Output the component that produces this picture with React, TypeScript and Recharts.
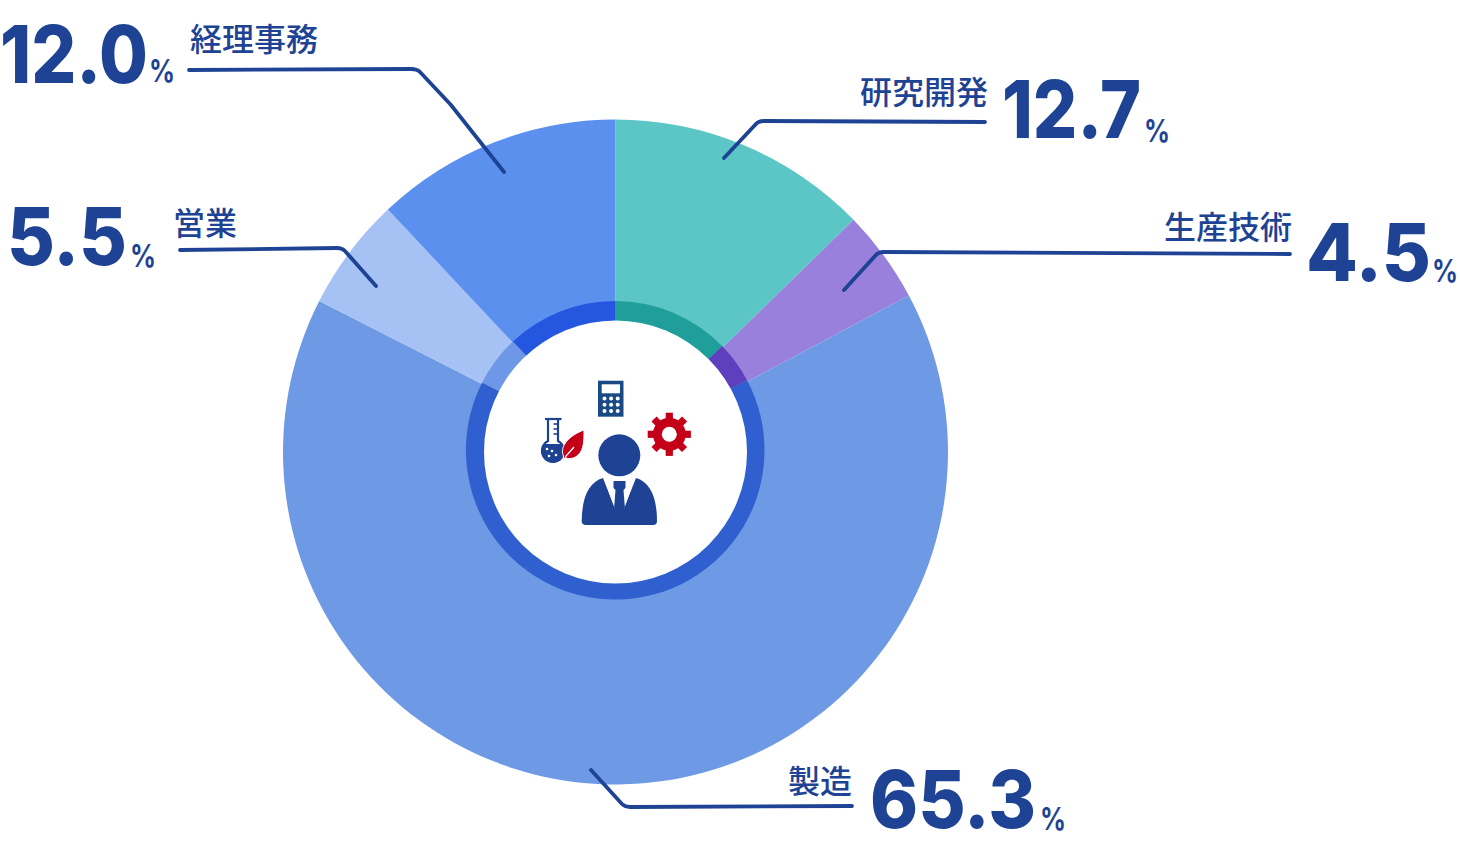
import { PieChart, Pie, Cell } from 'recharts';

const departments = ['研究開発', '生産技術', '製造', '営業', '経理事務'];
const shares = [12.7, 4.5, 65.3, 5.5, 12.0];
const sliceColors = ['#5CC6C6', '#9880DC', '#6E99E5', '#A6C1F4', '#5B90EE'];
const ringColors = ['#1F9E9A', '#5E3FBE', '#305FD0', '#6F97E8', '#2456E0'];

const data = departments.map((name, i) => ({ name, value: shares[i] }));

const NAVY = '#1E4394';
const JP = '"Noto Sans CJK JP", sans-serif';
const NUM = 'Inter, sans-serif';

// callout layout, same order as departments
const callouts = [
  { name: [988, 104, 'end'], num: [1002, 138], numW: 139, pct: [1144, 142], line: 'M985 122 L764 121 Q758 121 755 125 L724 158' },
  { name: [1292, 239, 'end'], num: [1306, 281], numW: 125, pct: [1432, 282], line: 'M1290 254 L884 252 Q878 252 875 256 L844 290' },
  { name: [852, 793, 'end'], num: [870, 828], numW: 166, pct: [1040, 830], line: 'M852 806 L630 807 Q625 807 622 804 L591 770' },
  { name: [173, 235, 'start'], num: [7, 265], numW: 120, pct: [130, 267], line: 'M180 250 L337 248 Q342 248 345 251 L376 286' },
  { name: [190, 51, 'start'], num: [0, 83], numW: 148, pct: [149, 82], line: 'M189 70 L411 69 Q417 69 420 72 L451 105 L504 172' },
];

function Callouts() {
  return (
    <g>
      {callouts.map((c, i) => (
        <g key={departments[i]}>
          <path d={c.line} fill="none" stroke={NAVY} strokeWidth={3.8} strokeLinecap="round" />
          <text x={c.name[0] as number} y={c.name[1] as number} textAnchor={c.name[2] as 'start' | 'end'} fontFamily={JP} fontWeight={500} fontSize={32} fill={NAVY}>
            {departments[i]}
          </text>
          <text x={c.num[0]} y={c.num[1]} textLength={c.numW} lengthAdjust="spacingAndGlyphs" fontFamily={NUM} fontWeight={800} fontSize={80} fill={NAVY}>
            {shares[i].toFixed(1)}
          </text>
          <text x={c.pct[0]} y={c.pct[1]} textLength={26} lengthAdjust="spacingAndGlyphs" fontFamily={NUM} fontWeight={700} fontSize={31} fill={NAVY}>
            %
          </text>
        </g>
      ))}
    </g>
  );
}

function CenterIcons() {
  const dots = [0, 1, 2];
  const teeth = [0, 45, 90, 135, 180, 225, 270, 315];
  const marks = [424, 429, 434];
  return (
    <g>
      <circle cx={615.5} cy={452} r={131.5} fill="#fff" />
      {/* person */}
      <circle cx={619.3} cy={455.3} r={21} fill={NAVY} />
      <path d="M603 478 L615 508 L624 508 L636 478 C650 482 657 497 657 521 Q657 525 653 525 L586 525 Q581.5 525 581.7 521 C582 497 589 482 603 478 Z" fill={NAVY} />
      <path d="M603.5 478 L615 509 L617 481 L622 481 L624 509 L635 478 Z" fill="#fff" />
      <path d="M613.5 481 L625.5 481 L625.5 488 L623.5 490 L625 509 L614 509 L615.5 490 L613.5 488 Z" fill={NAVY} />
      {/* calculator */}
      <rect x={598} y={380.7} width={25.5} height={36} fill="#1A4A85" />
      <rect x={601.7} y={384.3} width={18.3} height={9} fill="#fff" />
      {dots.map((r) =>
        dots.map((c) => <circle key={`${r}-${c}`} cx={604.5 + c * 6.6} cy={398.5 + r * 6.2} r={2} fill="#fff" />),
      )}
      {/* gear */}
      <g transform="translate(669.3 434.3)" fill="#C40018">
        {teeth.map((a) => (
          <rect key={a} x={-3.6} y={-21.6} width={7.2} height={10} transform={`rotate(${a})`} />
        ))}
        <circle r={16.5} />
        <circle r={7.5} fill="#fff" />
      </g>
      {/* flask */}
      <path d="M545 419 L561.5 419" fill="none" stroke={NAVY} strokeWidth={2.2} />
      <path d="M548 419 V441 A 11 11 0 1 0 558 441 V419" fill="none" stroke={NAVY} strokeWidth={2.2} />
      {marks.map((y) => (
        <path key={y} d={`M553.5 ${y} H558`} stroke={NAVY} strokeWidth={1.6} />
      ))}
      <path d="M544 444 A 11.2 11.2 0 1 0 561 444 Z" fill={NAVY} />
      <circle cx={547} cy={449} r={1.3} fill="#fff" />
      <circle cx={552} cy={451} r={1.3} fill="#fff" />
      <circle cx={556} cy={455} r={1.3} fill="#fff" />
      <circle cx={549} cy={456} r={1.3} fill="#fff" />
      {/* leaf */}
      <path d="M584 430 C584 440 584 450 578 455 C574 459 569 459 566 458 L563 462 L563.5 456 C559 446 570 435 584 430 Z" fill="#C40018" stroke="#fff" strokeWidth={1} />
      <path d="M563 462 L566 456 L574 447" fill="none" stroke="#fff" strokeWidth={1.3} />
    </g>
  );
}

export default function App() {
  return (
    <div style={{ position: 'absolute', left: 0, top: 0, width: 1460, height: 856 }}>
      <PieChart width={1460} height={856} margin={{ top: 0, right: 0, bottom: 0, left: 0 }}>
        <Pie data={data} dataKey="value" cx={615.5} cy={452} innerRadius={120} outerRadius={332.5} startAngle={90} endAngle={-270} stroke="none" isAnimationActive={false}>
          {data.map((d, i) => (
            <Cell key={d.name} fill={sliceColors[i]} />
          ))}
        </Pie>
        <Pie data={data} dataKey="value" cx={615.2} cy={450.3} innerRadius={120} outerRadius={149.3} startAngle={90} endAngle={-270} stroke="none" isAnimationActive={false}>
          {data.map((d, i) => (
            <Cell key={d.name} fill={ringColors[i]} />
          ))}
        </Pie>
      </PieChart>
      {/* leader lines and icons sit above the pie layer */}
      <svg width={1460} height={856} style={{ position: 'absolute', left: 0, top: 0, pointerEvents: 'none' }}>
        <CenterIcons />
        <Callouts />
      </svg>
    </div>
  );
}
